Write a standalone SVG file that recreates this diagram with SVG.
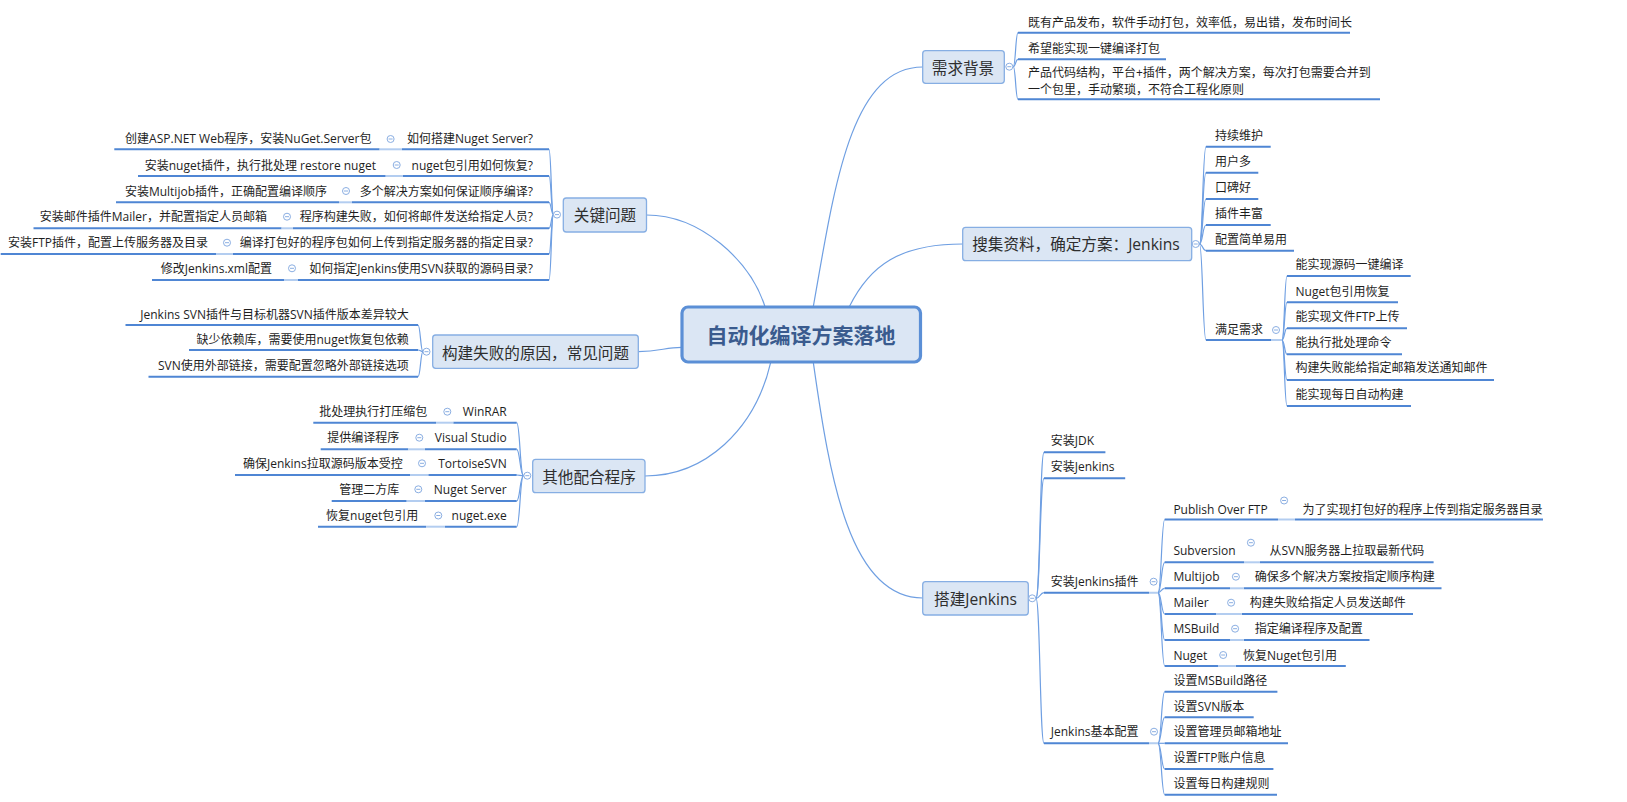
<svg xmlns="http://www.w3.org/2000/svg" width="1627" height="802" viewBox="0 0 1627 802">
<style>
text{font-family:"Open Sans","Noto Sans CJK SC",sans-serif;font-size:12px;fill:#1e1e1e}
.c{fill:none;stroke:#6f9fe2;stroke-width:1.2}
.u{fill:none;stroke:#4f86d4;stroke-width:2}
.l{fill:none;stroke:#b3cdf0;stroke-width:2}
.b1{fill:#dbe6f4;stroke:#86aee3;stroke-width:1.3}
.t1{font-size:15.6px;fill:#2e2e2e;text-anchor:middle}
.e{text-anchor:end}
.ctr{fill:#dbe6f4;stroke:#5b8fd6;stroke-width:3.2}
.ct{font-size:21px;font-weight:bold;fill:#3a5b8e;text-anchor:middle}
.cbc{fill:#fff;stroke:#8aaee2;stroke-width:1}
</style>
<defs>
<g id="cb"><circle class="cbc" r="3.5"/><path d="M-2,0H2" stroke="#8aaee2" stroke-width="1"/></g>
</defs>
<rect width="1627" height="802" fill="#fff"/>

<g id="connectors">
<!-- central to level 1 -->
<path class="c" d="M813.3,306.7 C834,190 850,67 922.7,67"/>
<path class="c" d="M849.3,306.7 C870,265 900,244 962.7,244"/>
<path class="c" d="M813.3,362.3 C830,480 850,598 922.7,598"/>
<path class="c" d="M765,306.7 C750,260 700,215 646.5,215"/>
<path class="c" d="M681.7,347.3 C665,347.3 660,351.7 638.3,351.7"/>
<path class="c" d="M770.7,362.3 C755,430 705,476 645,476"/>
<!-- 需求背景 -->
<path class="c" d="M1013.3,66.7 C1015.6,66.7 1015.6,32.7 1018,32.7"/>
<path class="c" d="M1013.3,66.7 C1015.6,66.7 1015.6,59.3 1018,59.3"/>
<path class="c" d="M1013.3,66.7 C1015.6,66.7 1015.6,99.3 1018,99.3"/>
<!-- 搜集资料 -->
<path class="c" d="M1199.5,244 C1202.7,244 1202.7,146.7 1206,146.7"/>
<path class="c" d="M1199.5,244 C1202.7,244 1202.7,172.7 1206,172.7"/>
<path class="c" d="M1199.5,244 C1202.7,244 1202.7,199 1206,199"/>
<path class="c" d="M1199.5,244 C1202.7,244 1202.7,225 1206,225"/>
<path class="c" d="M1199.5,244 C1202.7,244 1202.7,250.7 1206,250.7"/>
<path class="c" d="M1199.5,244 C1202.7,244 1202.7,340 1206,340"/>
<!-- 满足需求 -->
<path class="c" d="M1282,340 C1284.5,340 1284.5,276 1287,276"/>
<path class="c" d="M1282,340 C1284.5,340 1284.5,302.3 1287,302.3"/>
<path class="c" d="M1282,340 C1284.5,340 1284.5,328.3 1287,328.3"/>
<path class="c" d="M1282,340 C1284.5,340 1284.5,354.3 1287,354.3"/>
<path class="c" d="M1282,340 C1284.5,340 1284.5,380 1287,380"/>
<path class="c" d="M1282,340 C1284.5,340 1284.5,406 1287,406"/>
<!-- 搭建Jenkins -->
<path class="c" d="M1036,598.3 C1040,598.3 1040,452.3 1044,452.3"/>
<path class="c" d="M1036,598.3 C1040,598.3 1040,478.3 1044,478.3"/>
<path class="c" d="M1036,598.3 C1040,598.3 1040,592.7 1044,592.7"/>
<path class="c" d="M1036,598.3 C1040,598.3 1040,743.3 1044,743.3"/>
<!-- 安装Jenkins插件 -->
<path class="c" d="M1158,592.7 C1161.4,592.7 1161.4,519.5 1164.7,519.5"/>
<path class="c" d="M1158,592.7 C1161.4,592.7 1161.4,562.3 1164.7,562.3"/>
<path class="c" d="M1158,592.7 C1161.4,592.7 1161.4,588.3 1164.7,588.3"/>
<path class="c" d="M1158,592.7 C1161.4,592.7 1161.4,614 1164.7,614"/>
<path class="c" d="M1158,592.7 C1161.4,592.7 1161.4,640 1164.7,640"/>
<path class="c" d="M1158,592.7 C1161.4,592.7 1161.4,666 1164.7,666"/>
<!-- Jenkins基本配置 -->
<path class="c" d="M1158,743.3 C1161.4,743.3 1161.4,691.7 1164.7,691.7"/>
<path class="c" d="M1158,743.3 C1161.4,743.3 1161.4,717.3 1164.7,717.3"/>
<path class="c" d="M1158,743.3 L1164.7,743.3"/>
<path class="c" d="M1158,743.3 C1161.4,743.3 1161.4,769 1164.7,769"/>
<path class="c" d="M1158,743.3 C1161.4,743.3 1161.4,794.7 1164.7,794.7"/>
<!-- 关键问题 -->
<path class="c" d="M553.5,214.6 C551.2,214.6 551.2,149.3 549,149.3"/>
<path class="c" d="M553.5,214.6 C551.2,214.6 551.2,176 549,176"/>
<path class="c" d="M553.5,214.6 C551.2,214.6 551.2,202.3 549,202.3"/>
<path class="c" d="M553.5,214.6 C551.2,214.6 551.2,228.3 549,228.3"/>
<path class="c" d="M553.5,214.6 C551.2,214.6 551.2,254 549,254"/>
<path class="c" d="M553.5,214.6 C551.2,214.6 551.2,280 549,280"/>
<!-- 构建失败 -->
<path class="c" d="M423,351.7 C420.5,351.7 420.5,325 418,325"/>
<path class="c" d="M423,351.7 C420.5,351.7 420.5,350 418,350"/>
<path class="c" d="M423,351.7 C420.5,351.7 420.5,376.7 418,376.7"/>
<!-- 其他配合程序 -->
<path class="c" d="M523.5,475.7 C520,475.7 520,422.7 516.7,422.7"/>
<path class="c" d="M523.5,475.7 C520,475.7 520,449.3 516.7,449.3"/>
<path class="c" d="M523.5,475.7 C520,475.7 520,475 516.7,475"/>
<path class="c" d="M523.5,475.7 C520,475.7 520,501 516.7,501"/>
<path class="c" d="M523.5,475.7 C520,475.7 520,526.7 516.7,526.7"/>
</g>

<g id="center">
<rect class="ctr" x="682" y="307" width="238.5" height="55" rx="6"/>
<text class="ct" x="801" y="343">自动化编译方案落地</text>
</g>

<g id="n-xuqiu">
<rect class="b1" x="922.7" y="50.7" width="81.6" height="32.6" rx="3"/>
<text class="t1" x="963" y="74">需求背景</text>
<use href="#cb" x="1009.3" y="66.7"/>
<path class="u" d="M1018,32.7H1350M1018,59.3H1166M1018,99.3H1380"/>
<text x="1028" y="27.2">既有产品发布，软件手动打包，效率低，易出错，发布时间长</text>
<text x="1028" y="52.8">希望能实现一键编译打包</text>
<text x="1028" y="77.2">产品代码结构，平台+插件，两个解决方案，每次打包需要合并到</text>
<text x="1028" y="93.8">一个包里，手动繁琐，不符合工程化原则</text>
</g>

<g id="n-souji">
<rect class="b1" x="962.7" y="227.3" width="229" height="33.4" rx="3"/>
<text class="t1" x="1076" y="250">搜集资料，确定方案：Jenkins</text>
<use href="#cb" x="1195.7" y="244"/>
<path class="u" d="M1206,146.7H1270.7M1206,172.7H1258.3M1206,199H1258.3M1206,225H1270.7M1206,250.7H1294M1206,340H1271"/>
<path class="l" d="M1271,340H1282"/>
<text x="1215" y="139.5">持续维护</text>
<text x="1215" y="166.2">用户多</text>
<text x="1215" y="191.8">口碑好</text>
<text x="1215" y="217.8">插件丰富</text>
<text x="1215" y="243.8">配置简单易用</text>
<text x="1215" y="333.8">满足需求</text>
<use href="#cb" x="1276" y="330"/>
<path class="u" d="M1287,276H1410.7M1287,302.3H1398M1287,328.3H1407M1287,354.3H1402M1287,380H1494M1287,406H1411"/>
<text x="1295.5" y="268.8">能实现源码一键编译</text>
<text x="1295.5" y="295.5">Nuget包引用恢复</text>
<text x="1295.5" y="321.2">能实现文件FTP上传</text>
<text x="1295.5" y="346.8">能执行批处理命令</text>
<text x="1295.5" y="372.2">构建失败能给指定邮箱发送通知邮件</text>
<text x="1295.5" y="398.5">能实现每日自动构建</text>
</g>

<g id="n-dajian">
<rect class="b1" x="922.7" y="581.7" width="105.6" height="33.3" rx="3"/>
<text class="t1" x="975.5" y="604.8">搭建Jenkins</text>
<use href="#cb" x="1032.2" y="598.3"/>
<path class="u" d="M1044,452.3H1105.4M1044,478.3H1125.2M1044,592.7H1149M1044,743.3H1149"/>
<path class="l" d="M1149,592.7H1158M1149,743.3H1158"/>
<text x="1050.8" y="445.2">安装JDK</text>
<text x="1050.8" y="471.2">安装Jenkins</text>
<text x="1050.8" y="586.2">安装Jenkins插件</text>
<use href="#cb" x="1153.6" y="581.7"/>
<text x="1050.8" y="736.2">Jenkins基本配置</text>
<use href="#cb" x="1154" y="731.7"/>
<!-- plugins -->
<path class="u" d="M1164.7,519.5H1278M1295,519.5H1543"/>
<path class="l" d="M1278,519.5H1295"/>
<text x="1173.4" y="513.5">Publish Over FTP</text>
<use href="#cb" x="1284.1" y="500.5"/>
<text x="1302.5" y="513.5">为了实现打包好的程序上传到指定服务器目录</text>
<path class="u" d="M1164.7,562.3H1244M1260,562.3H1433.6"/>
<path class="l" d="M1244,562.3H1260"/>
<text x="1173.4" y="555.2">Subversion</text>
<use href="#cb" x="1250.9" y="542.7"/>
<text x="1269.5" y="555.2">从SVN服务器上拉取最新代码</text>
<path class="u" d="M1164.7,588.3H1230M1243.8,588.3H1441.5"/>
<path class="l" d="M1230,588.3H1243.8"/>
<text x="1173.4" y="581.2">Multijob</text>
<use href="#cb" x="1235.9" y="576.7"/>
<text x="1254.8" y="581.2">确保多个解决方案按指定顺序构建</text>
<path class="u" d="M1164.7,614H1216M1241.8,614H1413"/>
<path class="l" d="M1216,614H1241.8"/>
<text x="1173.4" y="607.2">Mailer</text>
<use href="#cb" x="1231.1" y="602.7"/>
<text x="1249.7" y="607.2">构建失败给指定人员发送邮件</text>
<path class="u" d="M1164.7,640H1230M1243.8,640H1369.5"/>
<path class="l" d="M1230,640H1243.8"/>
<text x="1173.4" y="633.2">MSBuild</text>
<use href="#cb" x="1235.1" y="628.7"/>
<text x="1254.8" y="633.2">指定编译程序及配置</text>
<path class="u" d="M1164.7,666H1218M1235.9,666H1345.8"/>
<path class="l" d="M1218,666H1235.9"/>
<text x="1173.4" y="659.5">Nuget</text>
<use href="#cb" x="1223.2" y="655"/>
<text x="1243" y="659.5">恢复Nuget包引用</text>
<!-- config -->
<path class="u" d="M1164.7,691.7H1277.4M1164.7,717.3H1253.7M1164.7,743.3H1288M1164.7,769H1273.4M1164.7,794.7H1277"/>
<text x="1173.4" y="684.5">设置MSBuild路径</text>
<text x="1173.4" y="710.5">设置SVN版本</text>
<text x="1173.4" y="736.2">设置管理员邮箱地址</text>
<text x="1173.4" y="761.8">设置FTP账户信息</text>
<text x="1173.4" y="787.5">设置每日构建规则</text>
</g>

<g id="n-guanjian">
<rect class="b1" x="563.3" y="198" width="83.2" height="34" rx="3"/>
<text class="t1" x="605" y="221">关键问题</text>
<use href="#cb" x="557" y="214.6"/>
<path class="u" d="M114.3,149.3H379.6M402,149.3H549"/>
<path class="l" d="M379.6,149.3H402"/>
<text class="e" x="533" y="142.8">如何搭建Nuget Server?</text>
<use href="#cb" x="390.6" y="139"/>
<text class="e" x="371.4" y="142.8">创建ASP.NET Web程序，安装NuGet.Server包</text>
<path class="u" d="M138,176H385.7M403,176H549"/>
<path class="l" d="M385.7,176H403"/>
<text class="e" x="533" y="169.5">nuget包引用如何恢复?</text>
<use href="#cb" x="396.7" y="165"/>
<text class="e" x="376" y="169.5">安装nuget插件，执行批处理 restore nuget</text>
<path class="u" d="M116,202.3H339M352,202.3H549"/>
<path class="l" d="M339,202.3H352"/>
<text class="e" x="533" y="195.5">多个解决方案如何保证顺序编译?</text>
<use href="#cb" x="346" y="191"/>
<text class="e" x="327" y="195.5">安装Multijob插件，正确配置编译顺序</text>
<path class="u" d="M33.5,228.3H281.6M293,228.3H549"/>
<path class="l" d="M281.6,228.3H293"/>
<text class="e" x="533" y="221.2">程序构建失败，如何将邮件发送给指定人员?</text>
<use href="#cb" x="287" y="216.7"/>
<text class="e" x="267" y="221.2">安装邮件插件Mailer，并配置指定人员邮箱</text>
<path class="u" d="M0.7,254H216M232.6,254H549"/>
<path class="l" d="M216,254H232.6"/>
<text class="e" x="533" y="247.2">编译打包好的程序包如何上传到指定服务器的指定目录?</text>
<use href="#cb" x="227" y="242.7"/>
<text class="e" x="208" y="247.2">安装FTP插件，配置上传服务器及目录</text>
<path class="u" d="M152,280H284M298,280H549"/>
<path class="l" d="M284,280H298"/>
<text class="e" x="533" y="272.8">如何指定Jenkins使用SVN获取的源码目录?</text>
<use href="#cb" x="292" y="268.3"/>
<text class="e" x="272" y="272.8">修改Jenkins.xml配置</text>
</g>

<g id="n-shibai">
<rect class="b1" x="432.7" y="335" width="205.6" height="33.3" rx="3"/>
<text class="t1" x="535.5" y="359">构建失败的原因，常见问题</text>
<use href="#cb" x="426.5" y="351.7"/>
<path class="u" d="M125.5,325H418M189,350H418M148.5,376.7H418"/>
<text class="e" x="408.7" y="318.8">Jenkins SVN插件与目标机器SVN插件版本差异较大</text>
<text class="e" x="408.7" y="343.5">缺少依赖库，需要使用nuget恢复包依赖</text>
<text class="e" x="408.7" y="370.2">SVN使用外部链接，需要配置忽略外部链接选项</text>
</g>

<g id="n-qita">
<rect class="b1" x="532.7" y="459.3" width="112.3" height="33.4" rx="3"/>
<text class="t1" x="589" y="482.6">其他配合程序</text>
<use href="#cb" x="527.3" y="475.7"/>
<path class="u" d="M313.3,422.7H436M453.3,422.7H516.7"/>
<path class="l" d="M436,422.7H453.3"/>
<text class="e" x="506.7" y="416.2">WinRAR</text>
<use href="#cb" x="447.3" y="411.7"/>
<text class="e" x="427.3" y="416.2">批处理执行打压缩包</text>
<path class="u" d="M320.7,449.3H408.3M425,449.3H516.7"/>
<path class="l" d="M408.3,449.3H425"/>
<text class="e" x="506.7" y="442.2">Visual Studio</text>
<use href="#cb" x="419.3" y="437.7"/>
<text class="e" x="399.3" y="442.2">提供编译程序</text>
<path class="u" d="M235,475H410M428.3,475H516.7"/>
<path class="l" d="M410,475H428.3"/>
<text class="e" x="506.7" y="467.8">TortoiseSVN</text>
<use href="#cb" x="422" y="463.3"/>
<text class="e" x="402.7" y="467.8">确保Jenkins拉取源码版本受控</text>
<path class="u" d="M331.7,501H406.7M425,501H516.7"/>
<path class="l" d="M406.7,501H425"/>
<text class="e" x="506.7" y="493.8">Nuget Server</text>
<use href="#cb" x="418.3" y="489.3"/>
<text class="e" x="399.3" y="493.8">管理二方库</text>
<path class="u" d="M318,526.7H426M445,526.7H516.7"/>
<path class="l" d="M426,526.7H445"/>
<text class="e" x="506.7" y="520">nuget.exe</text>
<use href="#cb" x="438.3" y="515.5"/>
<text class="e" x="418.3" y="520">恢复nuget包引用</text>
</g>
</svg>
